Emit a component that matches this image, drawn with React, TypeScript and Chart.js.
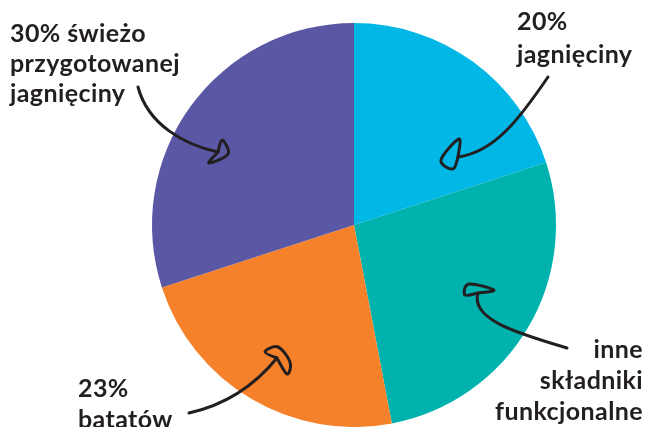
import React, { useEffect, useRef } from "react";
import { Chart, registerables } from "chart.js";

Chart.register(...registerables);

const categories = [
  "20% jagnięciny",
  "inne składniki funkcjonalne",
  "23% batatów",
  "30% świeżo przygotowanej jagnięciny",
];
const values = [20, 27, 23, 30];
const colors = ["#00B7E6", "#00B2AE", "#F5822A", "#5A57A5"];

// label lines (text) for each slice
const labelLines = [
  ["20%", "jagnięciny"],
  ["inne", "składniki", "funkcjonalne"],
  ["23%", "batatów"],
  ["30% świeżo", "przygotowanej", "jagnięciny"],
];

const INK = "#231F20";
const FONT = "bold 25px Lato";

// Annotation geometry in a design frame (pie centre 354,225 radius 202)
type Pt = [number, number];
const annotations: {
  text: { x: number; y: number; align: CanvasTextAlign; lines: string[]; lh: number };
  stem: Pt[]; // start, cp1, cp2, end
  head: Pt[]; // loop corners
}[] = [
  {
    text: { x: 517, y: 30, align: "left", lines: labelLines[0], lh: 33 },
    stem: [[548, 77], [520, 118], [495, 152], [458, 157]],
    head: [[459, 139], [441, 160], [453, 169]],
  },
  {
    text: { x: 643, y: 358, align: "right", lines: labelLines[1], lh: 31 },
    stem: [[567, 348], [520, 334], [470, 320], [478, 293]],
    head: [[465, 295], [469, 284], [494, 290]],
  },
  {
    text: { x: 78, y: 397, align: "left", lines: labelLines[2], lh: 31 },
    stem: [[189, 413], [225, 405], [255, 385], [277, 358]],
    head: [[265, 352], [278, 347], [290, 362], [287, 374]],
  },
  {
    text: { x: 10, y: 42, align: "left", lines: labelLines[3], lh: 30 },
    stem: [[138, 87], [148, 125], [185, 145], [218, 152]],
    head: [[222, 140], [228, 154], [209, 163]],
  },
];

function drawLoop(ctx: CanvasRenderingContext2D, pts: Pt[]) {
  // Catmull-Rom spline through points (first and last are the same point)
  const n = pts.length;
  const get = (i: number) => pts[Math.max(0, Math.min(n - 1, i))];
  ctx.beginPath();
  ctx.moveTo(pts[0][0], pts[0][1]);
  const t = 0.35;
  for (let i = 0; i < n - 1; i++) {
    const p0 = get(i - 1), p1 = get(i), p2 = get(i + 1), p3 = get(i + 2);
    const c1: Pt = [p1[0] + (p2[0] - p0[0]) * t / 2, p1[1] + (p2[1] - p0[1]) * t / 2];
    const c2: Pt = [p2[0] - (p3[0] - p1[0]) * t / 2, p2[1] - (p3[1] - p1[1]) * t / 2];
    ctx.bezierCurveTo(c1[0], c1[1], c2[0], c2[1], p2[0], p2[1]);
  }
  ctx.stroke();
}

const annotationPlugin = {
  id: "annotations",
  afterDraw(chart: any) {
    const meta = chart.getDatasetMeta(0);
    const arc = meta.data[0];
    if (!arc) return;
    const cx = arc.x;
    const cy = arc.y;
    const r = arc.outerRadius;
    const s = r / 202;
    const tx = (p: Pt): Pt => [cx + (p[0] - 354) * s, cy + (p[1] - 225) * s];
    const ctx = chart.ctx as CanvasRenderingContext2D;
    ctx.save();
    ctx.strokeStyle = INK;
    ctx.fillStyle = INK;
    ctx.lineWidth = 3;
    ctx.lineCap = "round";
    ctx.lineJoin = "round";
    for (const a of annotations) {
      const [p0, p1, p2, p3] = a.stem.map(tx);
      ctx.beginPath();
      ctx.moveTo(p0[0], p0[1]);
      ctx.bezierCurveTo(p1[0], p1[1], p2[0], p2[1], p3[0], p3[1]);
      ctx.stroke();
      drawLoop(ctx, [p3, ...a.head.map(tx), p3]);
      ctx.font = FONT;
      (ctx as any).letterSpacing = "0.4px";
      ctx.textAlign = a.text.align;
      ctx.textBaseline = "alphabetic";
      a.text.lines.forEach((line, i) => {
        const [x, y] = tx([a.text.x, a.text.y + i * a.text.lh]);
        ctx.fillText(line, x, y);
      });
    }
    ctx.restore();
  },
};

export default function App() {
  const ref = useRef<HTMLCanvasElement>(null);
  useEffect(() => {
    if (!ref.current) return;
    const chart = new Chart(ref.current, {
      type: "pie",
      data: {
        labels: categories,
        datasets: [
          {
            data: values,
            backgroundColor: colors,
            borderWidth: 0,
          },
        ],
      },
      options: {
        responsive: false,
        animation: false,
        layout: { padding: { top: 23, bottom: 0, left: 152, right: 94 } },
        plugins: {
          legend: { display: false },
          tooltip: { enabled: false },
        },
      },
      plugins: [annotationPlugin],
    });
    return () => chart.destroy();
  }, []);
  return (
    <div style={{ position: "fixed", top: 0, left: 0, width: 650, height: 427, background: "#fff" }}>
      <canvas ref={ref} width={650} height={427} />
    </div>
  );
}
